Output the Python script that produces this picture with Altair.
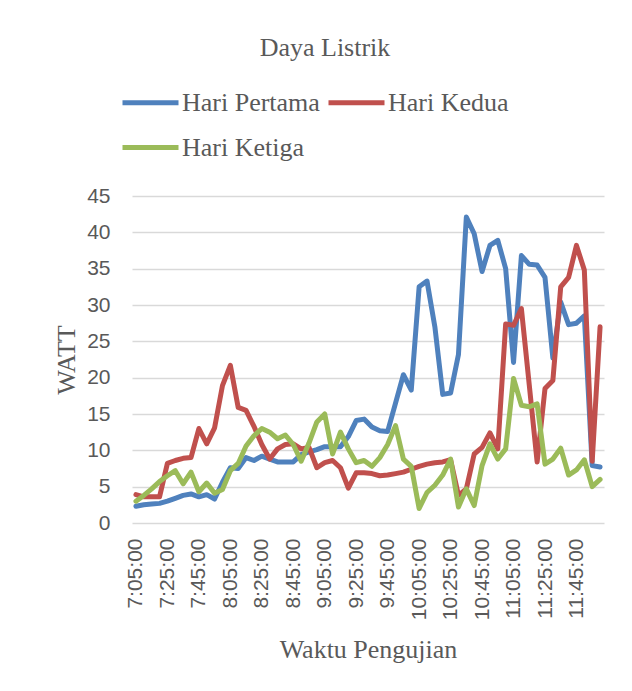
import altair as alt
import pandas as pd

times = [
    "7:05:00", "7:10:00", "7:15:00", "7:20:00", "7:25:00", "7:30:00", "7:35:00", "7:40:00",
    "7:45:00", "7:50:00", "7:55:00", "8:00:00", "8:05:00", "8:10:00", "8:15:00", "8:20:00",
    "8:25:00", "8:30:00", "8:35:00", "8:40:00", "8:45:00", "8:50:00", "8:55:00", "9:00:00",
    "9:05:00", "9:10:00", "9:15:00", "9:20:00", "9:25:00", "9:30:00", "9:35:00", "9:40:00",
    "9:45:00", "9:50:00", "9:55:00", "10:00:00", "10:05:00", "10:10:00", "10:15:00", "10:20:00",
    "10:25:00", "10:30:00", "10:35:00", "10:40:00", "10:45:00", "10:50:00", "10:55:00", "11:00:00",
    "11:05:00", "11:10:00", "11:15:00", "11:20:00", "11:25:00", "11:30:00", "11:35:00", "11:40:00",
    "11:45:00", "11:50:00", "11:55:00", "12:00:00",
]

hari_pertama = [
    2.3, 2.5, 2.6, 2.7, 3.0, 3.4, 3.8, 4.0, 3.6, 3.9,
    3.3, 5.6, 7.6, 7.5, 9.0, 8.6, 9.2, 8.8, 8.4, 8.4,
    8.4, 9.4, 9.8, 10.1, 10.5, 10.5, 10.5, 11.9, 14.1, 14.3,
    13.2, 12.7, 12.6, 16.5, 20.4, 18.3, 32.5, 33.3, 27.0, 17.7,
    17.9, 23.2, 42.1, 39.8, 34.6, 38.2, 38.9, 35.0, 22.1, 36.8,
    35.6, 35.5, 33.8, 22.7, 30.4, 27.3, 27.5, 28.5, 7.9, 7.7,
]

hari_kedua = [
    3.9, 3.6, 3.6, 3.6, 8.2, 8.6, 8.9, 9.0, 13.0, 10.9,
    13.1, 18.9, 21.7, 15.9, 15.5, 13.3, 10.8, 8.8, 10.2, 10.8,
    10.9, 10.2, 10.4, 7.6, 8.3, 8.6, 7.6, 4.8, 6.9, 6.9,
    6.8, 6.5, 6.6, 6.8, 7.0, 7.4, 7.8, 8.1, 8.3, 8.4,
    8.7, 3.8, 4.7, 9.5, 10.4, 12.4, 10.2, 27.4, 27.2, 29.5,
    19.0, 8.4, 18.5, 19.6, 32.5, 33.8, 38.2, 34.8, 8.5, 27.0,
]

hari_ketiga = [
    3.0, 3.8, 4.7, 5.7, 6.5, 7.2, 5.4, 7.0, 4.3, 5.5,
    4.1, 4.6, 7.2, 8.2, 10.6, 12.0, 13.0, 12.5, 11.6, 12.1,
    10.8, 8.5, 11.0, 13.9, 15.0, 9.5, 12.5, 10.2, 8.3, 8.6,
    7.8, 9.0, 10.8, 13.4, 8.8, 7.8, 2.0, 4.2, 5.2, 6.6,
    8.8, 2.2, 4.7, 2.4, 7.9, 10.9, 8.8, 10.2, 19.9, 16.2,
    16.0, 16.4, 8.1, 8.8, 10.3, 6.6, 7.3, 8.7, 5.0, 6.0,
]

series_names = ["Hari Pertama", "Hari Kedua", "Hari Ketiga"]
series_colors = ["#4F81BD", "#C0504D", "#9BBB59"]
y_ticks = [0, 5, 10, 15, 20, 25, 30, 35, 40, 45]
x_tick_labels = times[::4]

rows = []
for name, vals in zip(series_names, [hari_pertama, hari_kedua, hari_ketiga]):
    for t, v in zip(times, vals):
        rows.append({"Waktu": t, "Seri": name, "Watt": v})
df = pd.DataFrame(rows)

serif = "Liberation Serif"
sans = "Liberation Sans"
text_color = "#595959"

chart = (
    alt.Chart(df)
    .mark_line(strokeWidth=5, strokeJoin="round", strokeCap="round")
    .encode(
        x=alt.X(
            "Waktu:O",
            sort=times,
            scale=alt.Scale(type="point", padding=0.5),
            axis=alt.Axis(
                values=x_tick_labels,
                labelAngle=-90,
                labelFont=sans,
                labelFontSize=21,
                labelColor=text_color,
                labelPadding=15,
                domain=False,
                ticks=False,
                grid=False,
                title="Waktu Pengujian",
                titleFont=serif,
                titleFontSize=26,
                titleFontWeight="normal",
                titleColor=text_color,
                titlePadding=17,
            ),
        ),
        y=alt.Y(
            "Watt:Q",
            scale=alt.Scale(domain=[0, 45], nice=False),
            axis=alt.Axis(
                values=y_ticks,
                labelFont=sans,
                labelFontSize=21,
                labelColor=text_color,
                labelPadding=22,
                domain=False,
                ticks=False,
                grid=True,
                gridColor="#d9d9d9",
                gridWidth=1.5,
                title="WATT",
                titleFont=serif,
                titleFontSize=26,
                titleFontWeight="normal",
                titleColor=text_color,
                titlePadding=7,
            ),
        ),
        color=alt.Color(
            "Seri:N",
            sort=series_names,
            scale=alt.Scale(domain=series_names, range=series_colors),
            legend=alt.Legend(
                title=None,
                orient="none",
                legendX=-12,
                legendY=-124,
                direction="horizontal",
                columns=2,
                symbolType="stroke",
                symbolSize=3136,
                symbolStrokeWidth=5,
                labelFont=serif,
                labelFontSize=26,
                labelColor=text_color,
                labelOffset=1,
                columnPadding=-2,
                rowPadding=1,
                labelLimit=400,
            ),
        ),
    )
    .properties(
        width=472,
        height=327,
        title=alt.TitleParams(
            "Daya Listrik",
            font=serif,
            fontSize=26,
            fontWeight="normal",
            color=text_color,
            anchor="middle",
            offset=11,
            dx=-43,
        ),
        autosize=alt.AutoSizeParams(type="none"),
        padding={"left": 124, "top": 188, "right": 20, "bottom": 160},
        background="white",
    )
    .configure_view(stroke=None)
)

chart.save("out.html", embed_options={"renderer": "svg", "actions": False})
